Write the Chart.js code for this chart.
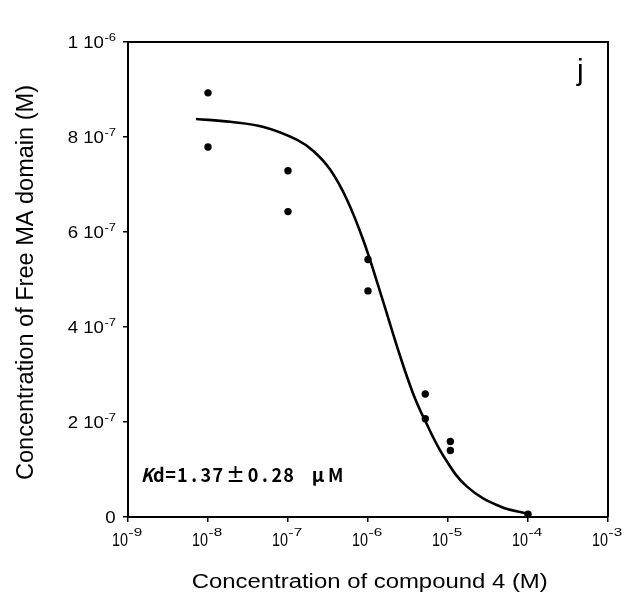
<!DOCTYPE html>
<html>
<head>
<meta charset="utf-8">
<script src="https://cdn.jsdelivr.net/npm/chart.js@4.4.0/dist/chart.umd.min.js"></script>
<style>
  html, body { margin: 0; padding: 0; background: #fff; }
  #wrap { width: 624px; height: 601px; }
</style>
</head>
<body>
<div id="wrap"><canvas id="c" width="624" height="601"></canvas></div>
<script>
// ---- data ----
const pointX = [1e-8, 1e-8, 1e-7, 1e-7, 1e-6, 1e-6, 5.2e-6, 5.2e-6, 1.07e-5, 1.07e-5, 1e-4];
const pointY = [8.93e-7, 7.79e-7, 7.29e-7, 6.43e-7, 5.42e-7, 4.76e-7, 2.59e-7, 2.07e-7, 1.59e-7, 1.40e-7, 0.6e-8];

const curveX = [7.08e-9, 1.9e-8, 4.95e-8, 1.3e-7, 2.09e-7, 3.38e-7, 5.46e-7, 8.81e-7, 1.43e-6, 2.54e-6, 3.72e-6, 5.2e-6, 8.81e-6, 1.73e-5, 4.51e-5, 1e-4];
const curveY = [8.38e-7, 8.32e-7, 8.21e-7, 7.94e-7, 7.70e-7, 7.31e-7, 6.68e-7, 5.81e-7, 4.72e-7, 3.37e-7, 2.57e-7, 2.02e-7, 1.28e-7, 0.64e-7, 0.22e-7, 0.07e-7];

const xTickValues = [1e-9, 1e-8, 1e-7, 1e-6, 1e-5, 1e-4, 1e-3];
const xTickMain = ['10', '10', '10', '10', '10', '10', '10'];
const xTickSup = ['-9', '-8', '-7', '-6', '-5', '-4', '-3'];

const yTickValues = [0, 2e-7, 4e-7, 6e-7, 8e-7, 1e-6];
const yTickMain = ['0', '2 10', '4 10', '6 10', '8 10', '1 10'];
const yTickSup = ['', '-7', '-7', '-7', '-7', '-6'];

const xTitle = 'Concentration of compound 4 (M)';
const yTitle = 'Concentration of Free MA domain (M)';
const panelLabel = 'j';
const kdChars = ['K', 'd', '=', '1', '.', '3', '7', '±', '0', '.', '2', '8', ' ', 'μ', 'M'];

// ---- helpers ----
function drawScaled(ctx, text, x, y, font, sx, align) {
  ctx.save();
  ctx.font = font;
  const w = ctx.measureText(text).width * sx;
  let left = x;
  if (align === 'right') left = x - w;
  else if (align === 'center') left = x - w / 2;
  ctx.translate(left, y);
  ctx.scale(sx, 1);
  ctx.textAlign = 'left';
  ctx.textBaseline = 'alphabetic';
  ctx.fillStyle = '#000';
  ctx.fillText(text, 0, 0);
  ctx.restore();
  return w;
}

const SANS = '"Liberation Sans", Arial, sans-serif';

const framePlugin = {
  id: 'frame',
  beforeDatasetsDraw(chart) {
    const { ctx, chartArea: a } = chart;
    ctx.save();
    ctx.strokeStyle = '#000';
    ctx.lineWidth = 2;
    ctx.beginPath();
    ctx.moveTo(a.left, a.top);
    ctx.lineTo(a.right, a.top);
    ctx.lineTo(a.right, a.bottom);
    ctx.stroke();
    ctx.restore();
  }
};

const textPlugin = {
  id: 'texts',
  afterDraw(chart) {
    const ctx = chart.ctx;
    const xs = chart.scales.x, ys = chart.scales.y;

    // y tick labels
    yTickValues.forEach((v, i) => {
      const yp = ys.getPixelForValue(v);
      const rightEdge = 116;
      if (yTickSup[i]) {
        const sw = drawScaled(ctx, yTickSup[i], rightEdge, yp - 1, '10px ' + SANS, 1.3, 'right');
        drawScaled(ctx, yTickMain[i], rightEdge - sw - 0.5, yp + 6, '16.5px ' + SANS, 1.13, 'right');
      } else {
        drawScaled(ctx, yTickMain[i], rightEdge - 0.5, yp + 6, '16.5px ' + SANS, 1.13, 'right');
      }
    });

    // x tick labels
    xTickValues.forEach((v, i) => {
      const xp = xs.getPixelForValue(v);
      drawScaled(ctx, xTickMain[i], xp, 546, '18px ' + SANS, 0.8, 'right');
      drawScaled(ctx, xTickSup[i], xp + 0.6, 535.7, '10.5px ' + SANS, 1.45, 'left');
    });

    // x title
    ctx.save();
    ctx.font = '20px ' + SANS;
    let w = ctx.measureText(xTitle).width;
    ctx.restore();
    drawScaled(ctx, xTitle, 369.7, 588.3, '20px ' + SANS, 356 / w, 'center');

    // y title (rotated)
    ctx.save();
    ctx.font = '23px ' + SANS;
    w = ctx.measureText(yTitle).width;
    ctx.translate(33, 282.5);
    ctx.rotate(-Math.PI / 2);
    drawScaled(ctx, yTitle, 0, 0, '23px ' + SANS, 395 / w, 'center');
    ctx.restore();

    // panel label
    drawScaled(ctx, panelLabel, 577, 80, '30px ' + SANS, 1.0, 'left');

    // Kd annotation (monospaced cells)
    const cell = 11.8;
    let cx = 141;
    kdChars.forEach((ch, i) => {
      const full = (ch === '±' || ch === 'μ');
      const cw = full ? cell * 2 : cell;
      const font = (i === 0 ? 'italic ' : '') + 'bold 19px "Noto Sans CJK JP", "DejaVu Sans", sans-serif';
      const sx = full ? 1.0 : 0.95;
      if (ch !== ' ') drawScaled(ctx, ch, cx + cw / 2, 481.5, font, sx, 'center');
      cx += cw;
    });
  }
};

new Chart(document.getElementById('c'), {
  type: 'scatter',
  data: {
    datasets: [
      {
        label: 'fit',
        data: curveX.map((x, i) => ({ x: x, y: curveY[i] })),
        showLine: true,
        borderColor: '#000',
        borderWidth: 2.6,
        pointRadius: 0,
        tension: 0.4,
        fill: false,
        order: 2
      },
      {
        label: 'data',
        data: pointX.map((x, i) => ({ x: x, y: pointY[i] })),
        showLine: false,
        backgroundColor: '#000',
        borderWidth: 0,
        pointRadius: 3.7,
        clip: false,
        order: 1
      }
    ]
  },
  options: {
    responsive: false,
    animation: false,
    devicePixelRatio: 1,
    layout: { padding: { left: 123, right: 16, top: 42, bottom: 79 } },
    plugins: { legend: { display: false }, tooltip: { enabled: false } },
    scales: {
      x: {
        type: 'logarithmic',
        min: 1e-9,
        max: 1e-3,
        afterBuildTicks: (s) => { s.ticks = xTickValues.map(v => ({ value: v })); },
        ticks: { display: false },
        grid: { drawOnChartArea: false, drawTicks: true, tickLength: 5, color: '#000', lineWidth: 1.5 },
        border: { display: true, color: '#000', width: 2 }
      },
      y: {
        type: 'linear',
        min: 0,
        max: 1e-6,
        afterBuildTicks: (s) => { s.ticks = yTickValues.map(v => ({ value: v })); },
        ticks: { display: false },
        grid: { drawOnChartArea: false, drawTicks: true, tickLength: 5, color: '#000', lineWidth: 1.5 },
        border: { display: true, color: '#000', width: 2 }
      }
    }
  },
  plugins: [framePlugin, textPlugin]
});
</script>
</body>
</html>
